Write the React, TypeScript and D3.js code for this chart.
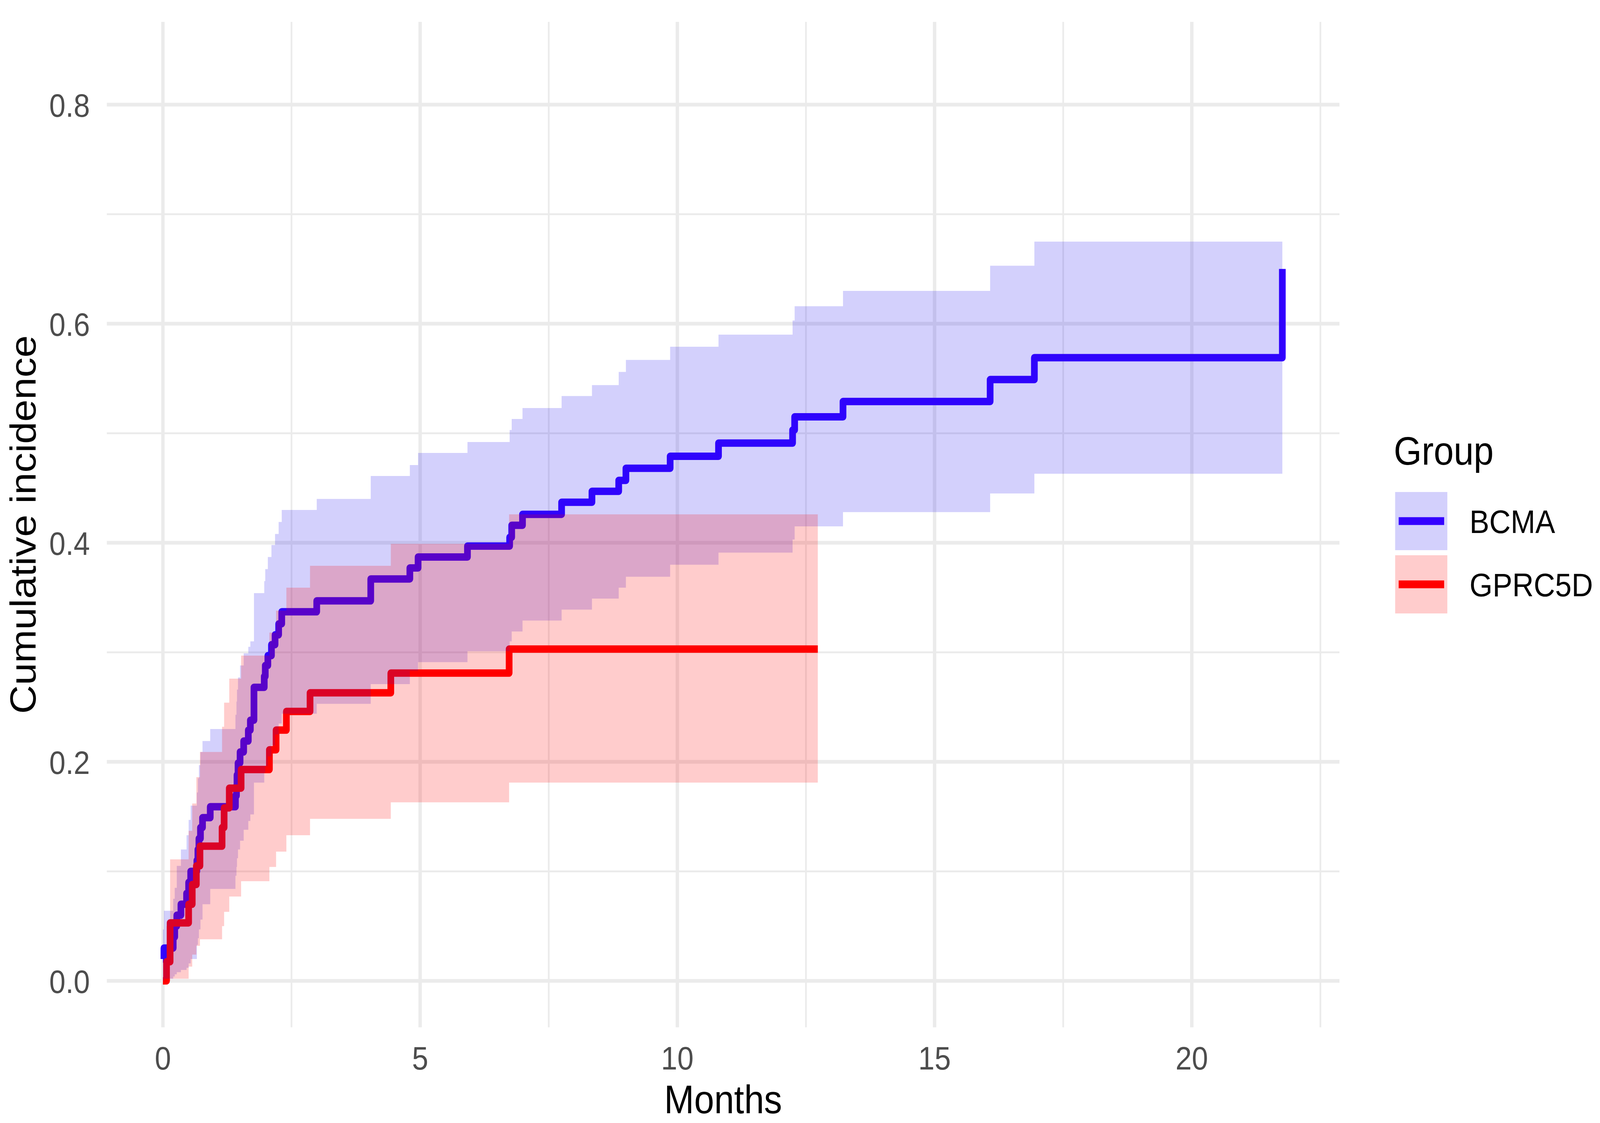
import React, { useEffect, useRef } from 'react';
import * as d3 from 'd3';

// BCMA cumulative incidence (step data)
const bcmaTime = [0, 0.02, 0.2, 0.23, 0.27, 0.35, 0.46, 0.5, 0.54, 0.66, 0.68, 0.7, 0.73, 0.77, 0.92,
  1.41, 1.43, 1.44, 1.46, 1.5, 1.57, 1.66, 1.7, 1.77, 1.97, 1.99, 2.04, 2.11, 2.18, 2.25, 2.31, 2.99,
  4.04, 4.8, 4.96, 5.92, 6.74, 6.78, 6.99, 7.75, 8.34, 8.86, 9.0, 9.86, 10.8, 12.24, 12.28, 13.22,
  16.08, 16.94, 21.76];
const bcmaEst = [0.02, 0.03, 0.04, 0.05, 0.06, 0.07, 0.08, 0.09, 0.1, 0.11, 0.12, 0.13, 0.14, 0.149, 0.159,
  0.169, 0.178, 0.188, 0.199, 0.209, 0.219, 0.229, 0.238, 0.268, 0.278, 0.288, 0.297, 0.307, 0.316, 0.326, 0.337, 0.347,
  0.367, 0.377, 0.387, 0.397, 0.405, 0.416, 0.426, 0.437, 0.447, 0.457, 0.468, 0.479, 0.491, 0.503, 0.515, 0.529,
  0.549, 0.569, 0.65];
const bcmaLower = [0, 0.002, 0.004, 0.006, 0.008, 0.01, 0.012, 0.016, 0.02, 0.033, 0.039, 0.047, 0.056, 0.07, 0.084,
  0.096, 0.104, 0.112, 0.12, 0.128, 0.138, 0.146, 0.152, 0.181, 0.19, 0.196, 0.205, 0.215, 0.225, 0.235, 0.244, 0.253,
  0.271, 0.283, 0.291, 0.301, 0.31, 0.319, 0.329, 0.339, 0.349, 0.359, 0.369, 0.38, 0.391, 0.403, 0.415, 0.428,
  0.445, 0.463, 0.463];
const bcmaUpper = [0.047, 0.064, 0.075, 0.085, 0.105, 0.12, 0.133, 0.147, 0.16, 0.172, 0.185, 0.197, 0.209, 0.219, 0.23,
  0.243, 0.255, 0.266, 0.277, 0.288, 0.299, 0.305, 0.31, 0.354, 0.365, 0.376, 0.387, 0.398, 0.408, 0.419, 0.43, 0.44,
  0.461, 0.471, 0.482, 0.492, 0.503, 0.513, 0.523, 0.534, 0.544, 0.556, 0.567, 0.579, 0.59, 0.603, 0.616, 0.63,
  0.653, 0.675, 0.675];

// GPRC5D cumulative incidence
const gprcTime = [0, 0.07, 0.14, 0.5, 0.57, 0.65, 0.72, 1.15, 1.19, 1.29, 1.52, 2.07, 2.2, 2.4, 2.86, 4.43, 6.73, 12.73];
const gprcEst = [0, 0.0175, 0.053, 0.07, 0.088, 0.105, 0.123, 0.14, 0.158, 0.176, 0.193, 0.211, 0.229, 0.246, 0.263, 0.281, 0.303, 0.303];
const gprcLower = [0, 0, 0.002, 0.013, 0.024, 0.032, 0.038, 0.05, 0.063, 0.077, 0.091, 0.104, 0.118, 0.133, 0.148, 0.163, 0.181, 0.181];
const gprcUpper = [0, 0.05, 0.111, 0.137, 0.162, 0.186, 0.209, 0.232, 0.254, 0.276, 0.297, 0.318, 0.338, 0.359, 0.379, 0.399, 0.426, 0.426];

const groups = ['BCMA', 'GPRC5D'];
const lineColors = ['#3300FF', '#FF0000'];
const ribbonColors = ['#2314F0', '#FF0000'];
const xTicks = [0, 5, 10, 15, 20];
const xMinor = [2.5, 7.5, 12.5, 17.5, 22.5];
const yTicks = [0, 0.2, 0.4, 0.6, 0.8];
const yMinor = [0.1, 0.3, 0.5, 0.7];

const FONT = "'Liberation Sans', Arial, Helvetica, sans-serif";

const CumIncidenceChart = () => {
  const chartRef = useRef(null);

  useEffect(() => {
    const width = 4538;
    const height = 2876;
    const panel = { left: 303, right: 3799, top: 56, bottom: 2631 };

    document.body.style.margin = '0';
    document.body.style.overflow = 'hidden';
    d3.select(chartRef.current).selectAll('*').remove();

    // the viewport may be narrower than the requested window, so stretch the drawing to fill it
    const svg = d3
      .select(chartRef.current)
      .append('svg')
      .attr('viewBox', `0 0 ${width} ${height}`)
      .attr('preserveAspectRatio', 'none')
      .attr('width', '100vw')
      .attr('height', '100vh')
      .style('position', 'absolute')
      .style('left', '0px')
      .style('top', '0px')
      .style('display', 'block')
      .style('background', '#ffffff');

    const x = d3.scaleLinear().domain([-1.09, 22.87]).range([panel.left, panel.right]);
    const y = d3.scaleLinear().domain([-0.0424, 0.8756]).range([panel.bottom, panel.top]);

    const lineColor = d3.scaleOrdinal<string, string>().domain(groups).range(lineColors);
    const ribbonColor = d3.scaleOrdinal<string, string>().domain(groups).range(ribbonColors);

    // grid: minor then major
    const grid = svg.append('g');
    grid.selectAll('line.ymin').data(yMinor).enter().append('line')
      .attr('x1', panel.left).attr('x2', panel.right)
      .attr('y1', d => y(d)).attr('y2', d => y(d))
      .attr('stroke', '#EBEBEB').attr('stroke-width', 4.8);
    grid.selectAll('line.xmin').data(xMinor).enter().append('line')
      .attr('y1', panel.top).attr('y2', panel.bottom)
      .attr('x1', d => x(d)).attr('x2', d => x(d))
      .attr('stroke', '#EBEBEB').attr('stroke-width', 4.8);
    grid.selectAll('line.ymaj').data(yTicks).enter().append('line')
      .attr('x1', panel.left).attr('x2', panel.right)
      .attr('y1', d => y(d)).attr('y2', d => y(d))
      .attr('stroke', '#EBEBEB').attr('stroke-width', 9.6);
    grid.selectAll('line.xmaj').data(xTicks).enter().append('line')
      .attr('y1', panel.top).attr('y2', panel.bottom)
      .attr('x1', d => x(d)).attr('x2', d => x(d))
      .attr('stroke', '#EBEBEB').attr('stroke-width', 9.6);

    const bcma = bcmaTime.map((t, i) => ({ t, est: bcmaEst[i], lo: bcmaLower[i], hi: bcmaUpper[i] }));
    const gprc = gprcTime.map((t, i) => ({ t, est: gprcEst[i], lo: gprcLower[i], hi: gprcUpper[i] }));
    const series = [
      { key: 'BCMA', values: bcma },
      { key: 'GPRC5D', values: gprc },
    ];

    const line = d3.line<any>()
      .x(d => x(d.t))
      .y(d => y(d.est))
      .curve(d3.curveStepAfter);

    const area = d3.area<any>()
      .x(d => x(d.t))
      .y0(d => y(d.lo))
      .y1(d => y(d.hi))
      .curve(d3.curveStepAfter);

    // lines sit under the translucent ribbons
    series.forEach(s => {
      svg.append('path')
        .attr('d', line(s.values))
        .attr('fill', 'none')
        .attr('stroke', lineColor(s.key))
        .attr('stroke-width', 19)
        .attr('stroke-linejoin', 'round')
        .attr('stroke-linecap', 'butt');
    });

    series.forEach(s => {
      svg.append('path')
        .attr('d', area(s.values))
        .attr('fill', ribbonColor(s.key))
        .attr('fill-opacity', 0.2)
        .attr('stroke', 'none');
    });

    // axis tick labels
    svg.append('g').selectAll('text').data(yTicks).enter().append('text')
      .attr('x', 255)
      .attr('y', d => y(d))
      .attr('dy', '0.37em')
      .attr('text-anchor', 'end')
      .style('font-size', '83px')
      .style('font-family', FONT)
      .style('fill', '#4D4D4D')
      .text(d => d3.format('.1f')(d));

    svg.append('g').selectAll('text').data(xTicks).enter().append('text')
      .attr('x', d => x(d))
      .attr('y', 2739)
      .attr('text-anchor', 'middle')
      .style('font-size', '83px')
      .style('font-family', FONT)
      .style('fill', '#4D4D4D')
      .text(d => String(d));

    // axis titles
    svg.append('text')
      .attr('x', (panel.left + panel.right) / 2)
      .attr('y', 2851)
      .attr('text-anchor', 'middle')
      .style('font-size', '102px')
      .style('font-family', FONT)
      .style('fill', '#000000')
      .text('Months');

    svg.append('text')
      .attr('transform', `translate(101, ${(panel.top + panel.bottom) / 2}) rotate(-90)`)
      .attr('text-anchor', 'middle')
      .style('font-size', '102px')
      .style('font-family', FONT)
      .style('fill', '#000000')
      .text('Cumulative incidence');

    // legend
    const legend = svg.append('g');
    legend.append('text')
      .attr('x', 3953)
      .attr('y', 1190)
      .style('font-size', '102px')
      .style('font-family', FONT)
      .style('fill', '#000000')
      .text('Group');

    groups.forEach((g, i) => {
      const top = 1260 + i * 162;
      legend.append('rect')
        .attr('x', 3957)
        .attr('y', top)
        .attr('width', 148)
        .attr('height', 149)
        .attr('fill', ribbonColor(g))
        .attr('fill-opacity', 0.2);
      legend.append('line')
        .attr('x1', 3967)
        .attr('x2', 4096)
        .attr('y1', top + 74.5)
        .attr('y2', top + 74.5)
        .attr('stroke', lineColor(g))
        .attr('stroke-width', 20);
      legend.append('text')
        .attr('x', 4168)
        .attr('y', top + 105)
        .style('font-size', '84px')
        .style('font-family', FONT)
        .style('fill', '#000000')
        .text(g);
    });
  }, []);

  return <div ref={chartRef}></div>;
};

export default function App() {
  return <CumIncidenceChart />;
}
